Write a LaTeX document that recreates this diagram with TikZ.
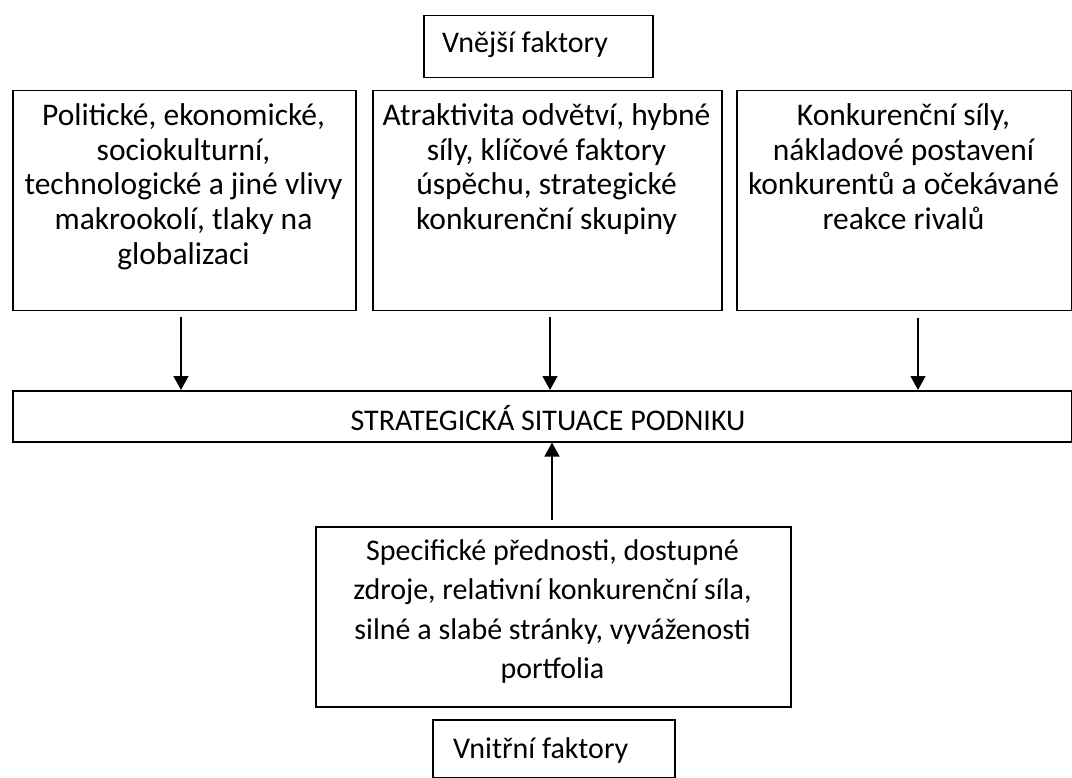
\documentclass[tikz,border=0pt]{standalone}
\usepackage{fontspec}
\setmainfont{Carlito}
\usetikzlibrary{arrows.meta}
\begin{document}
\begin{tikzpicture}[x=1pt,y=-1pt,
  box/.style={draw=black,line width=1.5pt,inner sep=0pt,anchor=north west},
  txt/.style={inner sep=0pt,align=center,font=\fontsize{31.5}{34.7}\selectfont},
  txtb/.style={inner sep=0pt,align=center,font=\fontsize{30}{39.5}\selectfont},
  lbl/.style={inner sep=0pt,font=\fontsize{30}{36}\selectfont},
  arr/.style={line width=1.4pt,-{Triangle[length=14pt,width=15pt]}}]
\useasboundingbox (0,0) rectangle (1072,778);
% boxes
\node[box,minimum width=229pt,minimum height=62pt] (vne) at (423,15) {};
\node[box,minimum width=343pt,minimum height=220pt] (lb) at (12,90) {};
\node[box,minimum width=349pt,minimum height=220pt] (mb) at (372,90) {};
\node[box,minimum width=335pt,minimum height=220pt] (rb) at (736,90) {};
\node[box,minimum width=1059pt,minimum height=51pt] (strat) at (12,390) {};
\node[box,minimum width=475pt,minimum height=180pt] (bot) at (315,526) {};
\node[box,minimum width=242pt,minimum height=58pt] (vni) at (432,719) {};
% texts
\node[lbl,anchor=base west] (vnet) at (442,53) {Vnější faktory};
\node[txt,anchor=north] (lt) at (183.5,101) {\strut Politické, ekonomické,\\sociokulturní,\\technologické a jiné vlivy\\makrookolí, tlaky na\\globalizaci};
\node[txt,anchor=north] (mt) at (546.5,101) {\strut Atraktivita odvětví, hybné\\síly, klíčové faktory\\úspěchu, strategické\\konkurenční skupiny};
\node[txt,anchor=north] (rt) at (903.5,101) {\strut Konkurenční síly,\\nákladové postavení\\konkurentů a očekávané\\reakce rivalů};
\node[lbl,anchor=base] (stt) at (548,430) {STRATEGICKÁ SITUACE PODNIKU};
\node[txtb,anchor=north] (bt) at (552.5,532.4) {\strut Specifické přednosti, dostupné\\zdroje, relativní konkurenční síla,\\silné a slabé stránky, vyváženosti\\portfolia};
\node[lbl,anchor=base west] (vnit) at (453,758) {Vnitřní faktory};
% arrows
\coordinate (a1) at (181,317);
\coordinate (a2) at (550,317);
\coordinate (a3) at (918,318);
\coordinate (a4) at (552,520);
\draw[arr] (a1) -- (a1 |- strat.north);
\draw[arr] (a2) -- (a2 |- strat.north);
\draw[arr] (a3) -- (a3 |- strat.north);
\draw[arr] (a4) -- (a4 |- strat.south);
\end{tikzpicture}
\end{document}
